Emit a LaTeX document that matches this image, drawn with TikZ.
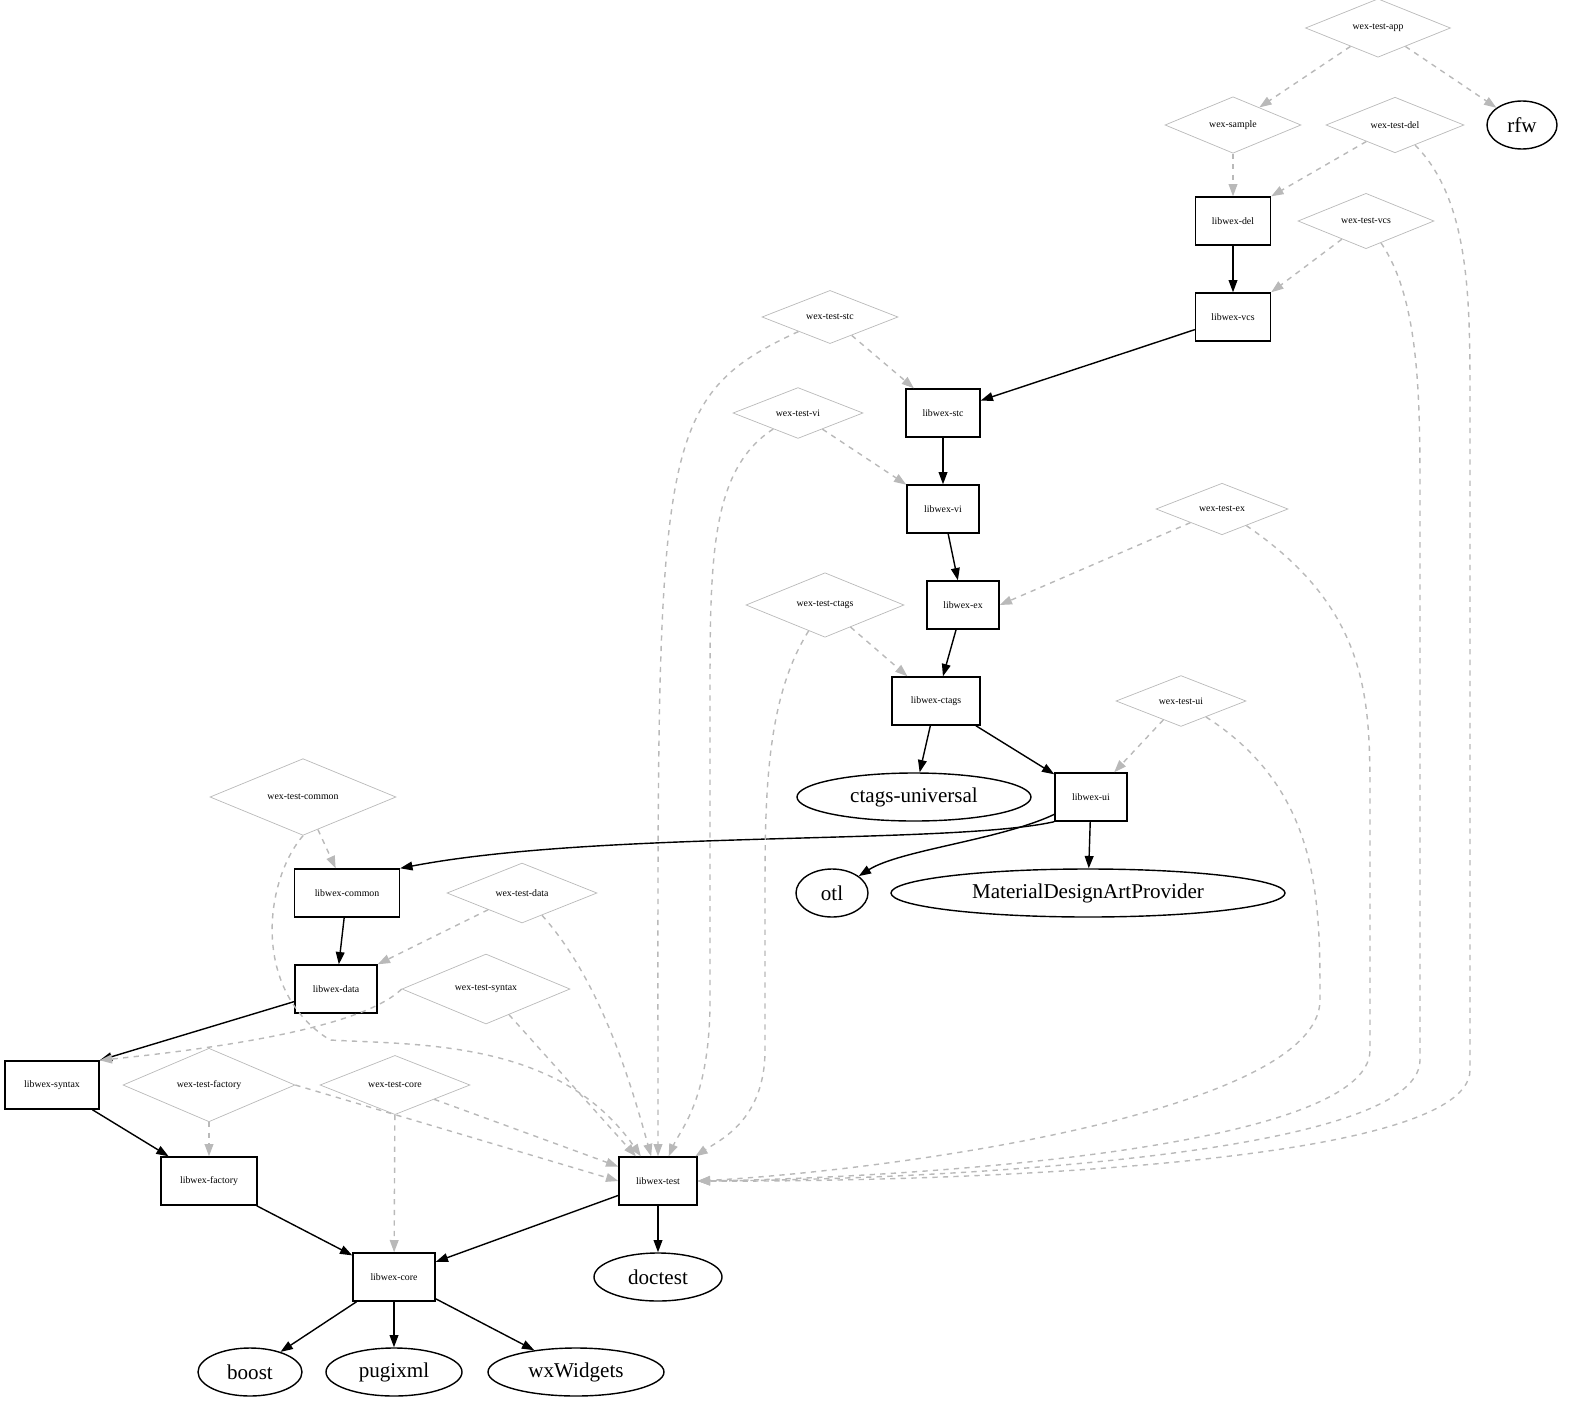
\documentclass[tikz,border=0pt]{standalone}
\usepackage{fontspec}
\setmainfont{Liberation Serif}
\usetikzlibrary{shapes.geometric,arrows.meta}
\begin{document}
\begin{tikzpicture}[x=0.02cm,y=-0.02cm,
 bx/.style={draw,thick,rectangle,inner sep=0,minimum height=48*0.02cm,font=\fontsize{5.6}{6}\selectfont},
 dm/.style={draw=gray!55,diamond,inner sep=0,minimum height=48*0.02cm,font=\fontsize{5.6}{6}\selectfont},
 el/.style={draw,thick,ellipse,inner sep=0,minimum height=48*0.02cm,font=\fontsize{12}{13}\selectfont},
 ed/.style={thick,-{Triangle[length=7pt,width=5pt]}},
 gd/.style={gray!55,thick,dashed,-{Triangle[length=7pt,width=5pt]}}]
\useasboundingbox (0,0) rectangle (1569,1403);
\node[dm,minimum width=145*0.02cm] (tapp) at (1378,28) {wex-test-app};
\node[el,minimum width=70*0.02cm] (rfw) at (1522,125) {rfw};
\node[dm,minimum width=136*0.02cm] (tsam) at (1233,125) {wex-sample};
\node[dm,minimum width=138*0.02cm] (tdel) at (1395,125) {wex-test-del};
\node[bx,minimum width=75*0.02cm] (del) at (1233,221) {libwex-del};
\node[dm,minimum width=136*0.02cm] (tvcs) at (1366,221) {wex-test-vcs};
\node[bx,minimum width=75*0.02cm] (vcs) at (1233,317) {libwex-vcs};
\node[dm,minimum width=136*0.02cm] (tstc) at (830,317) {wex-test-stc};
\node[bx,minimum width=74*0.02cm] (stc) at (943,413) {libwex-stc};
\node[dm,minimum width=130*0.02cm] (tvi) at (798,413) {wex-test-vi};
\node[bx,minimum width=72*0.02cm] (vi) at (943,509) {libwex-vi};
\node[dm,minimum width=132*0.02cm] (tex) at (1222,509) {wex-test-ex};
\node[bx,minimum width=72*0.02cm] (ex) at (963,605) {libwex-ex};
\node[dm,minimum width=158*0.02cm] (tctags) at (825,605) {wex-test-ctags};
\node[bx,minimum width=88*0.02cm] (ctags) at (936,701) {libwex-ctags};
\node[dm,minimum width=130*0.02cm] (tui) at (1181,701) {wex-test-ui};
\node[el,minimum width=234*0.02cm] (cu) at (914,797) {ctags-universal};
\node[bx,minimum width=72*0.02cm] (ui) at (1091,797) {libwex-ui};
\node[dm,minimum width=186*0.02cm] (tcommon) at (303,797) {wex-test-common};
\node[bx,minimum width=105*0.02cm] (common) at (347,893) {libwex-common};
\node[el,minimum width=72*0.02cm] (otl) at (832,893) {otl};
\node[el,minimum width=394*0.02cm] (mdap) at (1088,893) {MaterialDesignArtProvider};
\node[dm,minimum width=150*0.02cm] (tdata) at (522,893) {wex-test-data};
\node[bx,minimum width=82*0.02cm] (data) at (336,989) {libwex-data};
\node[dm,minimum width=168*0.02cm] (tsyn) at (486,989) {wex-test-syntax};
\node[bx,minimum width=94*0.02cm] (syn) at (52,1085) {libwex-syntax};
\node[dm,minimum width=172*0.02cm] (tfac) at (209,1085) {wex-test-factory};
\node[dm,minimum width=150*0.02cm] (tcore) at (395,1085) {wex-test-core};
\node[bx,minimum width=78*0.02cm] (test) at (658,1181) {libwex-test};
\node[bx,minimum width=96*0.02cm] (fac) at (209,1181) {libwex-factory};
\node[bx,minimum width=82*0.02cm] (core) at (394,1277) {libwex-core};
\node[el,minimum width=128*0.02cm] (doc) at (658,1277) {doctest};
\node[el,minimum width=104*0.02cm] (boost) at (250,1372) {boost};
\node[el,minimum width=136*0.02cm] (pugi) at (394,1372) {pugixml};
\node[el,minimum width=176*0.02cm] (wx) at (576,1372) {wxWidgets};
% black
\draw[ed] (del)--(vcs);
\draw[ed] (vcs)--(stc);
\draw[ed] (stc)--(vi);
\draw[ed] (vi)--(ex);
\draw[ed] (ex)--(ctags);
\draw[ed] (ctags)--(cu);
\draw[ed] (ctags)--(ui);
\draw[ed] (ui.south west) .. controls (950,845) and (600,830) .. (common.north east);
\draw[ed] (ui) .. controls (1000,840) and (900,850) .. (otl);
\draw[ed] (ui)--(mdap);
\draw[ed] (common)--(data);
\draw[ed] (data)--(syn.north east);
\draw[ed] (syn)--(fac);
\draw[ed] (fac)--(core);
\draw[ed] (test)--(core);
\draw[ed] (test)--(doc);
\draw[ed] (core)--(boost);
\draw[ed] (core)--(pugi);
\draw[ed] (core)--(wx);
% gray
\draw[gd] (tapp)--(tsam);
\draw[gd] (tapp)--(rfw);
\draw[gd] (tsam)--(del);
\draw[gd] (tdel)--(del.north east);
\draw[gd] (tvcs)--(vcs.north east);
\draw[gd] (tstc)--(stc);
\draw[gd] (tvi)--(vi);
\draw[gd] (tex)--(ex.east);
\draw[gd] (tctags)--(ctags);
\draw[gd] (tui)--(ui);
\draw[gd] (tcommon)--(common);
\draw[gd] (tdata)--(data.north east);
\draw[gd] (tsyn.west) .. controls (360,1030) and (200,1050) .. (syn.north east);
\draw[gd] (tfac)--(fac);
\draw[gd] (tcore)--(core);
\draw[gd] (tfac.east)--(test.west);
\draw[gd] (tcore)--(test);
\draw[gd] (tsyn)--(test);
\draw[gd] (tdata) .. controls (600,980) and (630,1080) .. (test);
\draw[gd] (tcommon.south) .. controls (265,880) and (250,990) .. (330,1040) .. controls (420,1045) and (560,1040) .. (test);
\draw[gd] (tstc) .. controls (650,400) and (658,450) .. (test.north);
\draw[gd] (tvi) .. controls (710,470) and (710,560) .. (710,700) -- (710,1000) .. controls (710,1100) and (680,1130) .. (test);
\draw[gd] (tctags) .. controls (765,700) and (765,800) .. (765,900) -- (765,1050) .. controls (765,1120) and (720,1140) .. (test);
\draw[gd] (tui) .. controls (1320,790) and (1320,900) .. (1320,1000) .. controls (1320,1110) and (900,1170) .. (test.east);
\draw[gd] (tex) .. controls (1370,610) and (1370,700) .. (1370,800) -- (1370,1050) .. controls (1370,1150) and (900,1178) .. (test.east);
\draw[gd] (tvcs) .. controls (1420,300) and (1420,400) .. (1420,500) -- (1420,1060) .. controls (1420,1160) and (900,1180) .. (test.east);
\draw[gd] (tdel) .. controls (1470,200) and (1470,300) .. (1470,400) -- (1470,1070) .. controls (1470,1170) and (900,1182) .. (test.east);
\end{tikzpicture}
\end{document}
